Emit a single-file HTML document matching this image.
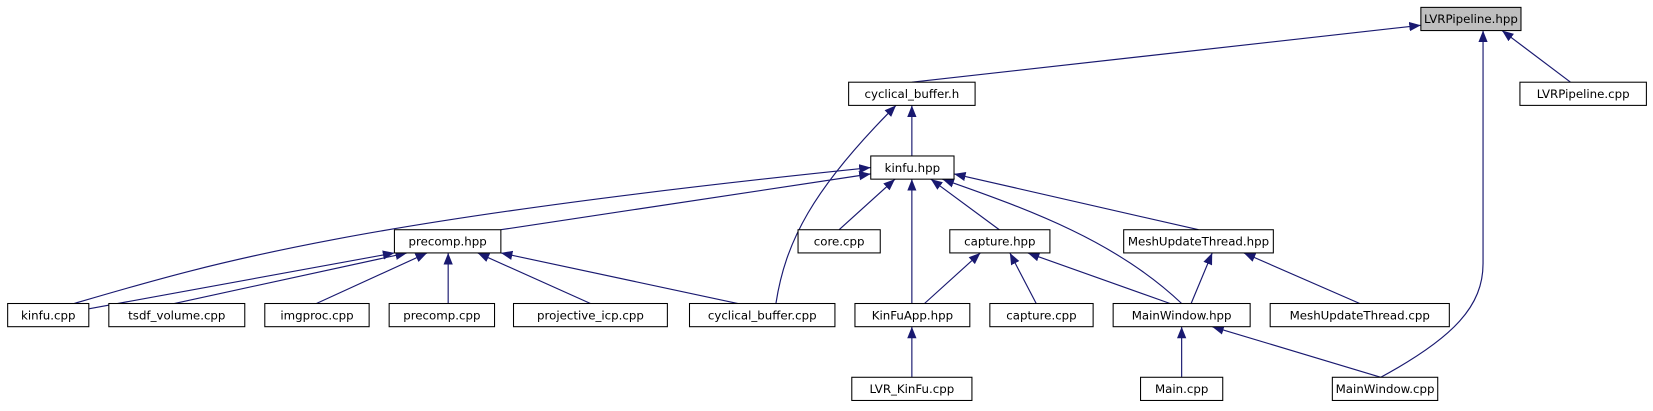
<!DOCTYPE html>
<html><head><meta charset="utf-8"><style>
html,body{margin:0;padding:0;background:#fff;}
svg{display:block;}
text{font-family:"DejaVu Sans","Liberation Sans",sans-serif;font-size:11.2px;fill:#000;}
</style></head><body>
<svg width="1653" height="411" viewBox="0 0 1568 390" xmlns="http://www.w3.org/2000/svg">
<defs>
<marker id="a" viewBox="0 0 10 8" refX="10" refY="4" markerWidth="11" markerHeight="9" markerUnits="userSpaceOnUse" orient="auto">
<path d="M0,0 L10,4 L0,8 Z" fill="#191970"/>
</marker>
</defs>
<g fill="none" stroke="#191970" stroke-width="1.1" marker-end="url(#a)">
<path d="M865,78 L1348,24"/>
<path d="M1490,78 L1425,29"/>
<path d="M1310,358 C1380,320 1407,290 1407,250 L1407,29"/>
<path d="M865,148 L865,100"/>
<path d="M736,288 C745,230 770,180 850,100"/>
<path d="M475,218 L826,165"/>
<path d="M70,288 C200,250 330,210 826,159"/>
<path d="M796,218 L849,170"/>
<path d="M865,288 L865,170"/>
<path d="M948,218 L883,170"/>
<path d="M1121,288 C1060,230 980,200 894,170"/>
<path d="M1137,218 L905,165"/>
<path d="M84,293 L374,240"/>
<path d="M165,288 L386,240"/>
<path d="M300,288 L405,240"/>
<path d="M425,288 L425,240"/>
<path d="M560,288 L453,240"/>
<path d="M700,288 L475,240"/>
<path d="M877,288 L930,240"/>
<path d="M983,288 L958,240"/>
<path d="M1110,288 L975,240"/>
<path d="M1130,288 L1150,240"/>
<path d="M1290,288 L1180,240"/>
<path d="M865,358 L865,310"/>
<path d="M1121,358 L1121,310"/>
<path d="M1310,358 L1150,310"/>
</g>
<g stroke="#000" stroke-width="1">
<rect x="1348" y="7" width="95" height="22" fill="#bfbfbf"/>
<rect x="805" y="78" width="120" height="22" fill="#fff"/>
<rect x="1442" y="78" width="120" height="22" fill="#fff"/>
<rect x="826" y="148" width="79" height="22" fill="#fff"/>
<rect x="374" y="218" width="101" height="22" fill="#fff"/>
<rect x="757" y="218" width="78" height="22" fill="#fff"/>
<rect x="901" y="218" width="95" height="22" fill="#fff"/>
<rect x="1066" y="218" width="142" height="22" fill="#fff"/>
<rect x="7" y="288" width="77" height="22" fill="#fff"/>
<rect x="103" y="288" width="129" height="22" fill="#fff"/>
<rect x="251" y="288" width="99" height="22" fill="#fff"/>
<rect x="369" y="288" width="100" height="22" fill="#fff"/>
<rect x="487" y="288" width="146" height="22" fill="#fff"/>
<rect x="654" y="288" width="138" height="22" fill="#fff"/>
<rect x="811" y="288" width="109" height="22" fill="#fff"/>
<rect x="939" y="288" width="98" height="22" fill="#fff"/>
<rect x="1056" y="288" width="130" height="22" fill="#fff"/>
<rect x="1205" y="288" width="170" height="22" fill="#fff"/>
<rect x="808" y="358" width="114" height="22" fill="#fff"/>
<rect x="1082" y="358" width="78" height="22" fill="#fff"/>
<rect x="1264" y="358" width="100" height="22" fill="#fff"/>
</g>
<g text-anchor="middle">
<text x="1395.5" y="22">LVRPipeline.hpp</text>
<text x="865" y="93">cyclical_buffer.h</text>
<text x="1502" y="93">LVRPipeline.cpp</text>
<text x="865.5" y="163">kinfu.hpp</text>
<text x="424.5" y="233">precomp.hpp</text>
<text x="796" y="233">core.cpp</text>
<text x="948.5" y="233">capture.hpp</text>
<text x="1137" y="233">MeshUpdateThread.hpp</text>
<text x="45.5" y="303">kinfu.cpp</text>
<text x="167.5" y="303">tsdf_volume.cpp</text>
<text x="300.5" y="303">imgproc.cpp</text>
<text x="419" y="303">precomp.cpp</text>
<text x="560" y="303">projective_icp.cpp</text>
<text x="723" y="303">cyclical_buffer.cpp</text>
<text x="865.5" y="303">KinFuApp.hpp</text>
<text x="988" y="303">capture.cpp</text>
<text x="1121" y="303">MainWindow.hpp</text>
<text x="1290" y="303">MeshUpdateThread.cpp</text>
<text x="865" y="373">LVR_KinFu.cpp</text>
<text x="1121" y="373">Main.cpp</text>
<text x="1314" y="373">MainWindow.cpp</text>
</g>
</svg>
</body></html>
